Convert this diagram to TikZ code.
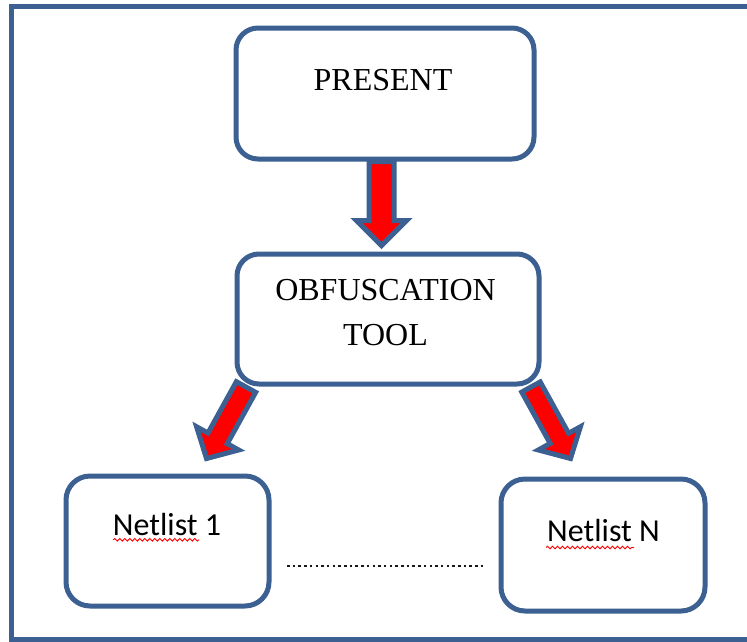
\documentclass[tikz,border=0pt]{standalone}
\usepackage{fontspec}
\setmainfont{Liberation Serif}
\newfontfamily\calibfont{Carlito}
\usetikzlibrary{calc,decorations.pathmorphing}

\definecolor{frameblue}{HTML}{3B6091}
\definecolor{arrowred}{HTML}{FF0000}

\tikzset{
  box/.style={draw=frameblue, line width=5pt, rounded corners=22pt, fill=white, inner sep=0pt},
  seriflabel/.style={font=\fontsize{32}{45}\selectfont, anchor=base, inner sep=0pt},
  sanslabel/.style={font=\calibfont\fontsize{32}{38}\selectfont, anchor=base, inner sep=0pt},
  blockarrow/.style={draw=frameblue, fill=arrowred, line width=5pt, line join=miter},
  squiggle/.style={draw=red, line width=0.9pt, decorate,
    decoration={snake, amplitude=1.3pt, segment length=5pt}},
  dotline/.style={draw=black!90, line width=2.5pt, dash pattern=on 2.5pt off 3.2pt},
  outerframe/.style={draw=frameblue, line width=5pt}
}

% block arrow from #1 (tail) to #2 (tip); shaft half-width #3, head half-width #4, head length #5
\newcommand{\drawblockarrow}[5]{%
  \coordinate (ba-base) at ($(#2)!#5!(#1)$);
  \draw[blockarrow]
    ($(#1)!#3!90:(#2)$) -- ($(ba-base)!#3!90:(#2)$) -- ($(ba-base)!#4!90:(#2)$)
    -- (#2)
    -- ($(ba-base)!#4!-90:(#2)$) -- ($(ba-base)!#3!-90:(#2)$) -- ($(#1)!#3!-90:(#2)$)
    -- cycle;
}

\begin{document}
\begin{tikzpicture}[x=1pt, y=-1pt]
  \useasboundingbox (0,0) rectangle (747,641);
  \clip (0,0) rectangle (747,641);

  % surrounding frame (runs off the right side)
  \draw[outerframe] (11.5,6) rectangle (790,639);

  % boxes
  \node[box, minimum width=298pt, minimum height=131pt] (present) at (385,93.5) {};
  \node[box, minimum width=302pt, minimum height=130pt] (obf) at (388,319) {};
  \node[box, rounded corners=24pt, minimum width=203pt, minimum height=130pt] (net1) at (167.5,541) {};
  \node[box, rounded corners=24pt, minimum width=204pt, minimum height=132pt] (netN) at (603,545) {};

  % box texts
  \node[seriflabel] (presentText) at (383,90.6) {PRESENT};
  \node[seriflabel, align=center] (obfText) at (385.5,345) {OBFUSCATION\\TOOL};
  \node[sanslabel] (net1Text) at (167,535.3) {Netlist 1};
  \node[sanslabel] (netNText) at (603.5,541.5) {Netlist N};

  % spell-check underlines
  \draw[squiggle] ($(net1Text.base west)+(0.5,4.5)$) -- ++(86,0);
  \draw[squiggle] ($(netNText.base west)+(-1,6)$) -- ++(88,0);

  % block arrows
  \coordinate (a0tail) at ($(present.south)+(-3.5,0)$);
  \coordinate (a0tip)  at ($(obf.north)+(-6.5,-6)$);
  \drawblockarrow{a0tail}{a0tip}{12.5pt}{25pt}{25pt}

  \coordinate (a1tail) at (246,387);
  \coordinate (a1tip)  at ($(net1.north)+(39,-15)$);
  \drawblockarrow{a1tail}{a1tip}{11pt}{24pt}{23pt}

  \coordinate (a2tail) at (531,387);
  \coordinate (a2tip)  at ($(netN.north)+(-32.5,-18)$);
  \drawblockarrow{a2tail}{a2tip}{10.5pt}{24pt}{23pt}

  % dotted line between the netlists
  \coordinate (dotsL) at (287,566);
  \coordinate (dotsR) at (485,566);
  \draw[dotline] (dotsL) -- (dotsR);
\end{tikzpicture}
\end{document}
